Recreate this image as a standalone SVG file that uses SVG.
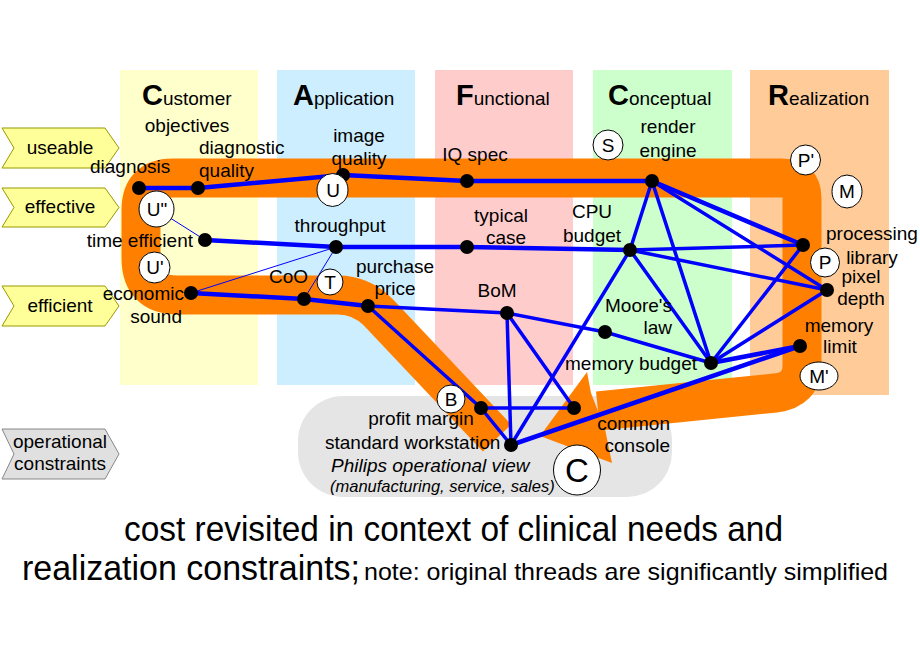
<svg xmlns="http://www.w3.org/2000/svg" width="920" height="660" viewBox="0 0 920 660">
<style>
.t{font-family:"Liberation Sans",Arial,sans-serif;font-size:19px;fill:#000}
.c{text-anchor:middle}
.e{text-anchor:end}
.big{font-weight:bold;font-size:29px}
.i{font-style:italic}
.thick{stroke:#0000ff;stroke-width:3.5;fill:none;stroke-linecap:round}
.main{stroke-width:4.5}
.thin{stroke:#0000ff;stroke-width:1;fill:none}
.dot{fill:#000}
.circ{fill:#fff;stroke:#000;stroke-width:1}
.chev{fill:#ffff99;stroke:#999900;stroke-width:1}
.chevg{fill:#e0e0e0;stroke:#888;stroke-width:1}
</style>
<rect width="920" height="660" fill="#fff"/>
<g id="columns">
<rect id="col-customer" x="120" y="70" width="138" height="315" fill="#ffffcc"/>
<rect id="col-application" x="277" y="70" width="138" height="315" fill="#cceeff"/>
<rect id="col-functional" x="435" y="70" width="138" height="315" fill="#ffcccc"/>
<rect id="col-conceptual" x="593" y="70" width="139" height="315" fill="#ccffcc"/>
<rect id="col-realization" x="750" y="70" width="139" height="325" fill="#ffcc99"/>
<text class="t" x="142" y="105"><tspan class="big">C</tspan>ustomer</text>
<text class="t" x="293" y="105"><tspan class="big">A</tspan>pplication</text>
<text class="t" x="456" y="105"><tspan class="big">F</tspan>unctional</text>
<text class="t" x="608" y="105"><tspan class="big">C</tspan>onceptual</text>
<text class="t" x="768" y="105"><tspan class="big">R</tspan>ealization</text>
</g>
<g id="qualities">
<g id="q-useable"><polygon class="chev" points="2,128 105,128 119,148 105,168 2,168 14,148"/><text class="t c" x="60" y="154">useable</text></g>
<g id="q-effective"><polygon class="chev" points="2,188 105,188 119,207.5 105,227 2,227 14,207.5"/><text class="t c" x="60" y="213">effective</text></g>
<g id="q-efficient"><polygon class="chev" points="2,286 105,286 119,306 105,326 2,326 14,306"/><text class="t c" x="60" y="312">efficient</text></g>
<g id="q-operational"><polygon class="chevg" points="2,429 105,429 119,454 105,479 2,479 14,454"/><text class="t c" x="60" y="448">operational</text><text class="t c" x="60" y="470">constraints</text></g>
</g>
<g id="operational-view">
<rect x="298" y="396" width="374" height="101" rx="45" ry="45" fill="#e5e5e5"/>
</g>
<g id="thread">
<path d="M 497,438 L 378,312 Q 361,295 338,295 L 178,295 Q 141,295 141,258 L 141,210 Q 141,178 173,178 L 782,178 Q 802,178 802,198 L 802,365 Q 802,390 775,393 L 598,411" fill="none" stroke="#ff8000" stroke-width="39" stroke-linejoin="round"/>
<polygon points="540,436 587,372 591,393 605,429 612,463" fill="#ff8000"/>
</g>
<g id="connectors">
<line class="thick main" x1="139" y1="188" x2="198" y2="188"/>
<line class="thick main" x1="198" y1="188" x2="343" y2="175"/>
<line class="thick main" x1="343" y1="175" x2="467" y2="181"/>
<line class="thick main" x1="467" y1="181" x2="652" y2="181"/>
<line class="thick main" x1="205" y1="240" x2="336" y2="247"/>
<line class="thick main" x1="336" y1="247" x2="467" y2="247"/>
<line class="thick main" x1="467" y1="247" x2="630" y2="250"/>
<line class="thick" x1="630" y1="250" x2="803" y2="245"/>
<line class="thick main" x1="191" y1="293" x2="304" y2="299"/>
<line class="thick main" x1="304" y1="299" x2="368" y2="306"/>
<line class="thick" x1="368" y1="306" x2="507" y2="313"/>
<line class="thick" x1="368" y1="306" x2="481" y2="408"/>
<line class="thick" x1="507" y1="313" x2="605" y2="332"/>
<line class="thick" x1="605" y1="332" x2="711" y2="363"/>
<line class="thick" x1="481" y1="408" x2="574" y2="408"/>
<line class="thick" x1="481" y1="408" x2="511" y2="445"/>
<line class="thick" x1="507" y1="313" x2="511" y2="445"/>
<line class="thick" x1="507" y1="313" x2="574" y2="408"/>
<line class="thick" x1="511" y1="445" x2="630" y2="250"/>
<line class="thick main" x1="511" y1="445" x2="800" y2="346"/>
<line class="thick" x1="652" y1="181" x2="630" y2="250"/>
<line class="thick" x1="652" y1="181" x2="711" y2="363"/>
<line class="thick main" x1="652" y1="181" x2="803" y2="245"/>
<line class="thick" x1="652" y1="181" x2="827" y2="290"/>
<line class="thick" x1="630" y1="250" x2="827" y2="290"/>
<line class="thick" x1="630" y1="250" x2="711" y2="363"/>
<line class="thick" x1="711" y1="363" x2="803" y2="245"/>
<line class="thick" x1="711" y1="363" x2="827" y2="290"/>
<line class="thick main" x1="711" y1="363" x2="800" y2="346"/>
<line class="thin" x1="156" y1="209" x2="205" y2="240"/>
<line class="thin" x1="191" y1="293" x2="336" y2="247"/>
<line class="thin" x1="304" y1="299" x2="336" y2="247"/>
</g>
<g id="nodes">
<g id="n-diagnosis"><circle class="dot" cx="139" cy="188" r="7"/><text class="t" x="90" y="173">diagnosis</text></g>
<g id="n-diagnostic-quality"><circle class="dot" cx="198" cy="188" r="7"/><text class="t" x="199" y="154">diagnostic</text><text class="t" x="199" y="177">quality</text></g>
<g id="n-objectives"><text class="t c" x="187" y="132">objectives</text></g>
<g id="n-image-quality"><circle class="dot" cx="343" cy="175" r="7"/><text class="t c" x="359" y="142">image</text><text class="t c" x="359" y="165">quality</text></g>
<g id="n-iq-spec"><circle class="dot" cx="467" cy="181" r="7"/><text class="t c" x="475" y="161">IQ spec</text></g>
<g id="n-render-engine"><circle class="dot" cx="652" cy="181" r="7"/><text class="t c" x="668" y="133">render</text><text class="t c" x="668" y="157">engine</text></g>
<g id="n-time-efficient"><circle class="dot" cx="205" cy="240" r="7"/><text class="t e" x="193" y="247">time efficient</text></g>
<g id="n-throughput"><circle class="dot" cx="336" cy="247" r="7"/><text class="t c" x="340" y="232">throughput</text></g>
<g id="n-typical-case"><circle class="dot" cx="467" cy="247" r="7"/><text class="t c" x="501" y="222">typical</text><text class="t c" x="506" y="244">case</text></g>
<g id="n-cpu-budget"><circle class="dot" cx="630" cy="250" r="7"/><text class="t c" x="592" y="218">CPU</text><text class="t c" x="592" y="242">budget</text></g>
<g id="n-processing-library"><circle class="dot" cx="803" cy="245" r="7"/><text class="t" x="826" y="240">processing</text><text class="t c" x="872" y="264">library</text></g>
<g id="n-pixel-depth"><circle class="dot" cx="827" cy="290" r="7"/><text class="t c" x="861" y="283">pixel</text><text class="t c" x="861" y="305">depth</text></g>
<g id="n-memory-limit"><circle class="dot" cx="800" cy="346" r="7"/><text class="t c" x="839" y="332">memory</text><text class="t c" x="840" y="353">limit</text></g>
<g id="n-memory-budget"><circle class="dot" cx="711" cy="363" r="7"/><text class="t" x="565" y="370">memory budget</text></g>
<g id="n-moores-law"><circle class="dot" cx="605" cy="332" r="7"/><text class="t e" x="672" y="312">Moore's</text><text class="t e" x="672" y="334">law</text></g>
<g id="n-economic-sound"><circle class="dot" cx="191" cy="293" r="7"/><text class="t e" x="184" y="300">economic</text><text class="t e" x="182" y="323">sound</text></g>
<g id="n-coo"><circle class="dot" cx="304" cy="299" r="7"/><text class="t" x="269" y="283">CoO</text></g>
<g id="n-purchase-price"><circle class="dot" cx="368" cy="306" r="7"/><text class="t c" x="395" y="273">purchase</text><text class="t c" x="395" y="295">price</text></g>
<g id="n-bom"><circle class="dot" cx="507" cy="313" r="7"/><text class="t c" x="497" y="297">BoM</text></g>
<g id="n-profit-margin"><circle class="dot" cx="481" cy="408" r="7"/><text class="t c" x="421" y="425">profit margin</text></g>
<g id="n-standard-workstation"><circle class="dot" cx="511" cy="445" r="7"/><text class="t" x="325" y="449">standard workstation</text></g>
<g id="n-common-console"><circle class="dot" cx="574" cy="408" r="7"/><text class="t e" x="670" y="430">common</text><text class="t e" x="670" y="452">console</text></g>
<g id="n-philips"><text class="t i" x="331" y="472">Philips operational view</text><text class="t i" x="330" y="492" style="font-size:16.5px">(manufacturing, service, sales)</text></g>
</g>
<g id="markers">
<g id="m-U2"><ellipse class="circ" cx="156.5" cy="209" rx="17.5" ry="18"/><text class="t c" x="157" y="216">U"</text></g>
<g id="m-U1"><circle class="circ" cx="154.5" cy="267.5" r="15.5"/><text class="t c" x="155" y="274">U'</text></g>
<g id="m-U"><ellipse class="circ" cx="332.5" cy="190" rx="15.5" ry="16.5"/><text class="t c" x="333" y="197">U</text></g>
<g id="m-T"><circle class="circ" cx="330" cy="282" r="13"/><text class="t c" x="330" y="289">T</text></g>
<g id="m-S"><circle class="circ" cx="608" cy="145" r="15"/><text class="t c" x="608" y="152">S</text></g>
<g id="m-P1"><circle class="circ" cx="805.5" cy="160" r="15"/><text class="t c" x="806" y="167">P'</text></g>
<g id="m-M"><ellipse class="circ" cx="847" cy="191.5" rx="15" ry="16.5"/><text class="t c" x="847" y="198">M</text></g>
<g id="m-P"><circle class="circ" cx="825" cy="262.5" r="14.5"/><text class="t c" x="825" y="269">P</text></g>
<g id="m-M1"><ellipse class="circ" cx="819" cy="376" rx="19" ry="14"/><text class="t c" x="819" y="383">M'</text></g>
<g id="m-B"><circle class="circ" cx="451" cy="399" r="14"/><text class="t c" x="451" y="406">B</text></g>
<g id="m-C"><ellipse class="circ" cx="577" cy="470" rx="23.5" ry="25"/><text class="t c" x="577" y="482" style="font-size:33px">C</text></g>
</g>
<g id="caption">
<text class="t" x="124" y="541" style="font-size:35px" textLength="659" lengthAdjust="spacingAndGlyphs">cost revisited in context of clinical needs and</text>
<text class="t" x="22" y="580" style="font-size:35px" textLength="338" lengthAdjust="spacingAndGlyphs">realization constraints;</text>
<text class="t" x="364" y="580" style="font-size:24px" textLength="524" lengthAdjust="spacingAndGlyphs">note: original threads are significantly simplified</text>
</g>
</svg>
